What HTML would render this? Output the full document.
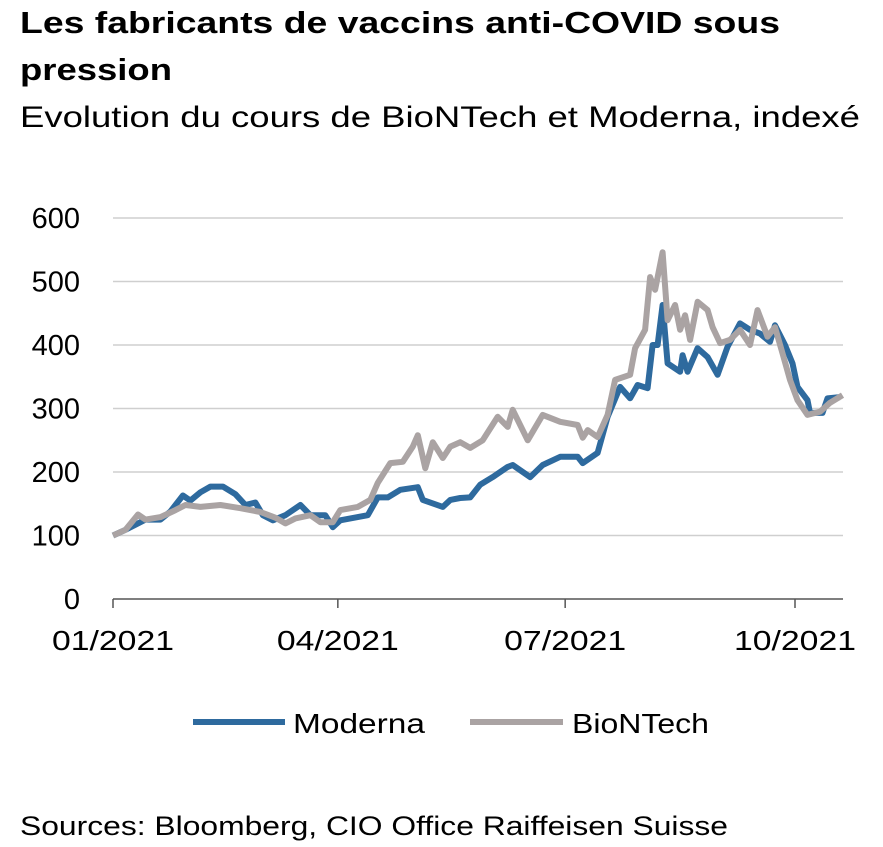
<!DOCTYPE html>
<html><head><meta charset="utf-8"><style>
body{margin:0;background:#fff;font-family:"Liberation Sans",Arial,sans-serif;}
#wrap{position:relative;width:883px;height:847px;overflow:hidden;}
</style></head><body>
<div id="wrap">
<svg id="svg" width="883" height="847" xmlns="http://www.w3.org/2000/svg">
<text x="20" y="33" font-size="31" font-weight="bold" fill="#000" textLength="760" lengthAdjust="spacingAndGlyphs">Les fabricants de vaccins anti-COVID sous</text>
<text x="20" y="80" font-size="31" font-weight="bold" fill="#000" textLength="152" lengthAdjust="spacingAndGlyphs">pression</text>
<text x="20" y="127" font-size="30" fill="#000" textLength="840" lengthAdjust="spacingAndGlyphs">Evolution du cours de BioNTech et Moderna, indexé</text>
<g id="grid"></g><g id="axis"></g><g id="series"></g>
<g>
<line x1="193" y1="722" x2="285" y2="722" stroke="#2e6a9e" stroke-width="6"/>
<text x="293" y="733" font-size="28" textLength="132" lengthAdjust="spacingAndGlyphs">Moderna</text>
<line x1="470" y1="722" x2="563" y2="722" stroke="#aaa3a3" stroke-width="6"/>
<text x="572" y="733" font-size="28" textLength="137" lengthAdjust="spacingAndGlyphs">BioNTech</text>
</g>
<text x="20" y="835" font-size="27" fill="#000" textLength="708" lengthAdjust="spacingAndGlyphs">Sources: Bloomberg, CIO Office Raiffeisen Suisse</text>
</svg></div>
<script>
const yTicks=[0,100,200,300,400,500,600];
const xTickDays=[0,90,181,273];
const xTickLabels=["01/2021","04/2021","07/2021","10/2021"];
const modernaDays=[0,5,9,13,19,23,28,31,35,39,44,49,53,57,60,64,69,75,79,85,88,91,102,106,110,115,122,124,132,135,139,143,147,152,158,160,167,172,179,186,188,194,198,203,207,210,214,216,218,220,222,227,228,230,234,238,242,246,251,255,259,263,265,269,272,274,278,279,284,286,291];
const modernaVals=[100,109,117,125,125,138,163,155,168,177,177,165,148,152,132,124,132,148,132,132,113,124,132,160,160,172,176,156,145,156,159,160,180,192,208,211,192,211,224,224,214,230,287,334,316,337,332,400,400,463,371,358,384,358,395,381,353,397,434,424,418,405,431,400,371,334,313,293,293,316,318];
const biontechDays=[0,5,10,13,19,25,29,35,43,51,59,65,69,73,79,83,88,91,98,103,106,111,116,120,122,125,128,132,135,139,143,148,154,158,160,166,172,179,186,188,190,194,198,201,207,209,213,215,217,220,222,225,227,229,231,234,238,240,243,247,251,255,258,262,265,268,271,274,278,283,287,292];
const biontechVals=[100,109,133,125,129,140,148,145,148,143,137,128,119,127,132,121,121,140,145,156,183,214,216,240,258,206,247,222,240,247,238,250,287,271,298,250,290,279,274,254,266,255,290,345,353,395,424,507,487,546,439,463,424,447,408,468,455,428,403,408,424,400,455,413,428,387,345,313,290,295,309,321];
const X0=113,X1=795,Y0=599,Y600=218;
const xs=d=>X0+d*(X1-X0)/273;
const ys=v=>Y0-v*(Y0-Y600)/600;
const NS="http://www.w3.org/2000/svg";
const grid=document.getElementById('grid'),axis=document.getElementById('axis'),series=document.getElementById('series');
yTicks.forEach(v=>{
 if(v>0){const l=document.createElementNS(NS,'line');
 
 
 l.setAttribute('x1',X0);l.setAttribute('x2',843);l.setAttribute('y1',ys(v));l.setAttribute('y2',ys(v));
 l.setAttribute('stroke','#cfcfcf');l.setAttribute('stroke-width','1.5');grid.appendChild(l);}
 const t=document.createElementNS(NS,'text');
 
 
 t.setAttribute('x',80);t.setAttribute('y',ys(v)+10);t.setAttribute('text-anchor','end');t.setAttribute('font-size','29');
 t.textContent=v;axis.appendChild(t);
});
const ax=document.createElementNS(NS,'line');


ax.setAttribute('x1',X0);ax.setAttribute('x2',843);ax.setAttribute('y1',Y0);ax.setAttribute('y2',Y0);ax.setAttribute('stroke','#555');ax.setAttribute('stroke-width','1.5');axis.appendChild(ax);
xTickDays.forEach((d,i)=>{
 const l=document.createElementNS(NS,'line');
 
 
 l.setAttribute('x1',xs(d));l.setAttribute('x2',xs(d));l.setAttribute('y1',Y0);l.setAttribute('y2',Y0+9);l.setAttribute('stroke','#555');l.setAttribute('stroke-width','1.5');axis.appendChild(l);
 const t=document.createElementNS(NS,'text');
 
 
 t.setAttribute('x',xs(d)-61);t.setAttribute('y',650);t.setAttribute('font-size','28');
 t.setAttribute('textLength','122');t.setAttribute('lengthAdjust','spacingAndGlyphs');
 t.textContent=xTickLabels[i];axis.appendChild(t);
});
function line(days,vals,color,name){
 const p=document.createElementNS(NS,'polyline');
 
 
 p.setAttribute('points',days.map((d,i)=>xs(d).toFixed(1)+','+ys(vals[i]).toFixed(1)).join(' '));
 p.setAttribute('fill','none');p.setAttribute('stroke',color);p.setAttribute('stroke-width','6');p.setAttribute('stroke-linejoin','round');
 series.appendChild(p);
}
line(modernaDays,modernaVals,'#2e6a9e','moderna-line');
line(biontechDays,biontechVals,'#aaa3a3','biontech-line');
</script>
</body></html>
